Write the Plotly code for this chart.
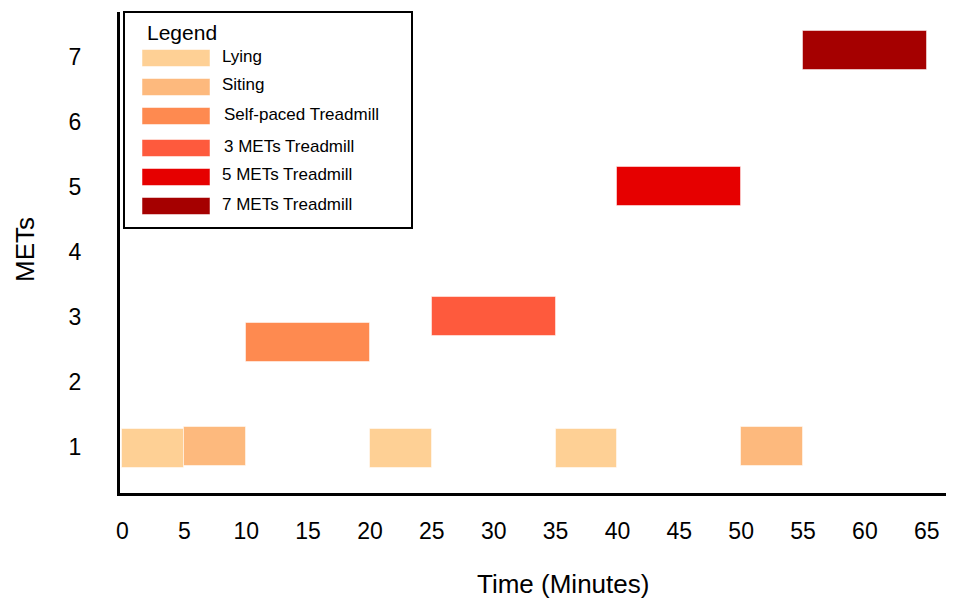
import plotly.graph_objects as go

# ---- data ----
activities = ["Lying", "Siting", "Self-paced Treadmill", "3 METs Treadmill",
              "5 METs Treadmill", "7 METs Treadmill"]
colors = ["#FED095", "#FDB97D", "#FE8A50", "#FE5A3D", "#E60000", "#A50000"]
# segments: activity, start minute, end minute, METs
seg_activity = ["Lying", "Siting", "Self-paced Treadmill", "Lying", "3 METs Treadmill",
                "Lying", "5 METs Treadmill", "Siting", "7 METs Treadmill"]
seg_start = [0, 5, 10, 20, 25, 35, 40, 50, 55]
seg_end = [5, 10, 20, 25, 35, 40, 50, 55, 65]
seg_mets = [0.98, 1.01, 2.6, 0.98, 3.0, 0.98, 5.0, 1.01, 7.1]
x_ticks = list(range(0, 70, 5))
y_ticks = [1, 2, 3, 4, 5, 6, 7]

OFF = 8  # page body margin
W, H = 954 - OFF, 600 - OFF
ML, MT = 120 - OFF, 12 - OFF
PW, PH = 834, 481
MR = W - ML - PW
MB = H - MT - PH


def px(x):  # page pixel -> paper x
    return (x - OFF - ML) / PW


def py(y):  # page pixel -> paper y
    return (MT + PH - (y - OFF)) / PH


fig = go.Figure()
for act, col in zip(activities, colors):
    idx = [i for i, a in enumerate(seg_activity) if a == act]
    fig.add_trace(go.Bar(
        orientation="h",
        y=[seg_mets[i] for i in idx],
        base=[seg_start[i] for i in idx],
        x=[seg_end[i] - seg_start[i] for i in idx],
        width=0.6,
        marker=dict(color=col, line=dict(color="rgba(255,255,255,0.5)", width=1)),
        name=act,
        showlegend=False,
    ))

shapes = []
annotations = []
# legend box
shapes.append(dict(type="rect", xref="paper", yref="paper",
                   x0=px(124), x1=px(412), y0=py(12), y1=py(228),
                   line=dict(color="black", width=2), fillcolor="white", layer="above"))
annotations.append(dict(text="Legend", xref="paper", yref="paper", x=px(145), y=py(33),
                        xanchor="left", yanchor="middle", showarrow=False,
                        font=dict(size=21, color="black")))
sw_centers = [58, 87, 116, 148, 177, 206]
lab_x = [220, 220, 222, 222, 220, 220]
for act, col, cy, lx in zip(activities, colors, sw_centers, lab_x):
    shapes.append(dict(type="rect", xref="paper", yref="paper",
                       x0=px(142), x1=px(210), y0=py(cy - 8.5), y1=py(cy + 8.5),
                       line=dict(color="rgba(255,255,255,0.5)", width=1), fillcolor=col,
                       layer="above"))
    annotations.append(dict(text=act, xref="paper", yref="paper", x=px(lx), y=py(cy - 2),
                            xanchor="left", yanchor="middle", showarrow=False,
                            font=dict(size=17, color="black")))

# axis titles
annotations.append(dict(text="METs", xref="paper", yref="paper", x=px(25), y=py(250),
                        textangle=-90, showarrow=False, xanchor="center", yanchor="middle",
                        font=dict(size=26, color="black")))
annotations.append(dict(text="Time (Minutes)", xref="paper", yref="paper", x=px(563), y=py(584),
                        showarrow=False, xanchor="center", yanchor="middle",
                        font=dict(size=26, color="black")))

fig.update_layout(
    width=W, height=H,
    margin=dict(l=ML, r=MR, t=MT, b=MB),
    plot_bgcolor="white", paper_bgcolor="white",
    font=dict(family="Liberation Sans, Arial, sans-serif", color="black"),
    bargap=0, barmode="overlay",
    shapes=shapes, annotations=annotations,
)
fig.update_xaxes(range=[-0.2, 67.2], tickvals=x_ticks, ticktext=[str(t) for t in x_ticks],
                 showgrid=False, zeroline=False, showline=True, linecolor="black", linewidth=3,
                 ticks="", tickfont=dict(size=23), ticklabelstandoff=15)
fig.update_yaxes(range=[0.292, 7.69], tickvals=y_ticks, showgrid=False, zeroline=False,
                 showline=True, linecolor="black", linewidth=3, ticks="",
                 tickfont=dict(size=23), ticklabelstandoff=31)

fig.write_html("out.html")
